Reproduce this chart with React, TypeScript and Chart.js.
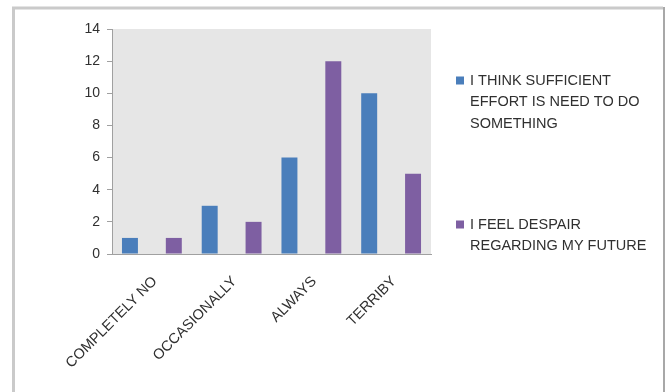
import React, { useEffect, useRef } from "react";
import { Chart, registerables } from "chart.js";

Chart.register(...registerables);

// Survey answers and counts for the two statements
const categories = ["COMPLETELY NO", "OCCASIONALLY", "ALWAYS", "TERRIBY"];
const seriesNames = [
  "I THINK SUFFICIENT EFFORT IS NEED TO DO SOMETHING",
  "I FEEL DESPAIR REGARDING MY FUTURE",
];
const effortValues = [1, 3, 6, 10];
const despairValues = [1, 2, 12, 5];
const yTicks = [0, 2, 4, 6, 8, 10, 12, 14];
const seriesColors = ["#4a7ebb", "#7e5fa2"];

const FONT = "'Liberation Sans', Arial, sans-serif";
const TEXT = "#303030";

// Split a legend caption into lines no wider than maxWidth
function wrapText(ctx: CanvasRenderingContext2D, text: string, maxWidth: number): string[] {
  const words = text.split(" ");
  const lines: string[] = [];
  let line = "";
  for (const w of words) {
    const test = line ? line + " " + w : w;
    if (ctx.measureText(test).width > maxWidth && line) {
      lines.push(line);
      line = w;
    } else {
      line = test;
    }
  }
  if (line) lines.push(line);
  return lines;
}

// White page, outer frame and grey plot background
const panelPlugin = {
  id: "panel",
  beforeDraw(chart: any) {
    const { ctx, chartArea: a, width, height } = chart;
    ctx.save();
    ctx.fillStyle = "#ffffff";
    ctx.fillRect(0, 0, width, height);
    ctx.strokeStyle = "#cacaca";
    ctx.lineWidth = 3;
    ctx.beginPath();
    ctx.moveTo(13.5, height + 2);
    ctx.lineTo(13.5, 8);
    ctx.lineTo(663, 8);
    ctx.stroke();
    ctx.strokeStyle = "#a8a8a8";
    ctx.lineWidth = 2;
    ctx.beginPath();
    ctx.moveTo(664, 7);
    ctx.lineTo(664, height + 2);
    ctx.stroke();
    ctx.fillStyle = "#e6e6e6";
    ctx.fillRect(a.left, a.top, a.right - a.left, a.bottom - a.top);
    ctx.restore();
  },
};

// Legend on the right with wrapped captions
const legendPlugin = {
  id: "sideLegend",
  afterDraw(chart: any) {
    const { ctx } = chart;
    ctx.save();
    ctx.font = `14.5px ${FONT}`;
    ctx.textBaseline = "middle";
    ctx.textAlign = "left";
    const firstLineY = [80.5, 224.5];
    chart.data.datasets.forEach((ds: any, i: number) => {
      const y0 = firstLineY[i];
      ctx.fillStyle = ds.backgroundColor;
      ctx.fillRect(456, y0 - 4, 8, 8);
      ctx.fillStyle = TEXT;
      const lines = wrapText(ctx, ds.label, 185);
      lines.forEach((ln, j) => ctx.fillText(ln, 470, y0 + j * 21.5));
    });
    ctx.restore();
  },
};

export default function App() {
  const canvasRef = useRef<HTMLCanvasElement | null>(null);

  useEffect(() => {
    const canvas = canvasRef.current;
    if (!canvas) return;
    const chart = new Chart(canvas, {
      type: "bar",
      data: {
        labels: categories,
        datasets: [
          { label: seriesNames[0], data: effortValues, backgroundColor: seriesColors[0] },
          { label: seriesNames[1], data: despairValues, backgroundColor: seriesColors[1] },
        ],
      },
      options: {
        responsive: false,
        animation: false,
        devicePixelRatio: 1,
        layout: { padding: { left: 0, right: 237, top: 29, bottom: 0 } },
        datasets: { bar: { categoryPercentage: 1.1, barPercentage: 0.364 } },
        plugins: {
          legend: { display: false },
          tooltip: { enabled: false },
        },
        scales: {
          x: {
            grid: { display: false },
            border: { display: true, color: "#a0a0a0", width: 1 },
            ticks: {
              maxRotation: 45,
              minRotation: 45,
              autoSkip: false,
              color: TEXT,
              padding: 11,
              labelOffset: 3,
              font: { family: FONT, size: 14.5 },
            },
            afterFit(scale: any) {
              scale.height = 138;
            },
          },
          y: {
            min: yTicks[0],
            max: yTicks[yTicks.length - 1],
            afterBuildTicks(scale: any) {
              scale.ticks = yTicks.map((v) => ({ value: v }));
            },
            grid: { drawOnChartArea: false, drawTicks: true, tickLength: 5, color: "#a0a0a0" },
            border: { display: true, color: "#a0a0a0", width: 1 },
            ticks: {
              color: TEXT,
              padding: 7,
              font: { family: FONT, size: 14 },
            },
            afterFit(scale: any) {
              scale.width = 112;
            },
          },
        },
      },
      plugins: [panelPlugin, legendPlugin],
    });
    return () => chart.destroy();
  }, []);

  return (
    <div style={{ position: "absolute", left: 0, top: 0, width: 668, height: 392 }}>
      <canvas ref={canvasRef} width={668} height={392} />
    </div>
  );
}
